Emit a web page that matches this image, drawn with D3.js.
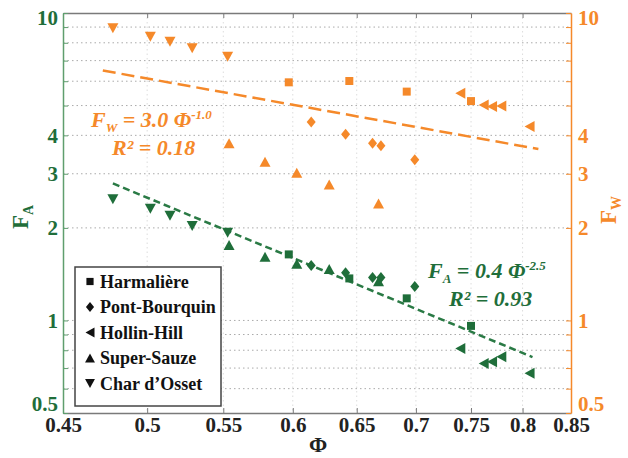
<!DOCTYPE html>
<html>
<head>
<meta charset="utf-8">
<script src="https://cdn.jsdelivr.net/npm/d3@7"></script>
<style>
  body { margin: 0; background: #fff; }
</style>
</head>
<body>
<svg width="628" height="458"></svg>
<script>
// sites, one marker shape each
var sites = ["Harmalière", "Pont-Bourquin", "Hollin-Hill", "Super-Sauze", "Char d’Osset"];
var shapes = ["square", "diamond", "left", "up", "down"];

// porosity Φ per site
var phi = [
    [0.597, 0.644, 0.692, 0.750],
    [0.614, 0.641, 0.663, 0.670, 0.699],
    [0.740, 0.762, 0.770, 0.779, 0.807],
    [0.554, 0.5795, 0.603, 0.628, 0.668],
    [0.479, 0.502, 0.5145, 0.529, 0.553]
];
// F_A (left axis, green)
var fA = [
    [1.64, 1.37, 1.18, 0.96],
    [1.51, 1.43, 1.38, 1.38, 1.29],
    [0.81, 0.725, 0.734, 0.762, 0.673],
    [1.76, 1.61, 1.53, 1.47, 1.34],
    [2.48, 2.31, 2.19, 2.03, 1.93]
];
// F_W (right axis, orange)
var fW = [
    [5.95, 6.01, 5.55, 5.17],
    [4.42, 4.03, 3.77, 3.70, 3.33],
    [5.48, 5.02, 4.96, 4.98, 4.27],
    [3.77, 3.28, 3.02, 2.77, 2.40],
    [8.92, 8.37, 8.07, 7.68, 7.21]
];
// fitted power laws, end points as drawn
var fitA = [[0.479, 2.79], [0.81, 0.76]];
var fitW = [[0.473, 6.5], [0.816, 3.61]];

var xTicks = [0.45, 0.5, 0.55, 0.6, 0.65, 0.7, 0.75, 0.8, 0.85];
var yTicks = [0.5, 0.6, 0.7, 0.8, 0.9, 1, 2, 3, 4, 5, 6, 7, 8, 9, 10];
var yLabels = [0.5, 1, 2, 3, 4, 10];

var green = "#1f6e3a", greenAxis = "#5f9e6e", orange = "#f5892a", grey = "#7a7a7a";
var FONT = "Liberation Serif";

var svg = d3.select("svg")
    .style("font-family", FONT).style("font-weight", "bold");
var mLeft = 63, mRight = 571, mTop = 13, mBottom = 413;

var x = d3.scaleLog().domain([0.45, 0.85]).range([mLeft, mRight]);
var y = d3.scaleLog().domain([0.5, 10]).range([mBottom, mTop]);

// grid
svg.append("g").selectAll("line")
    .data(yTicks.filter(function(d) { return d > 0.5 && d < 10; }))
    .enter().append("line")
    .attr("x1", mLeft).attr("x2", mRight)
    .attr("y1", function(d) { return y(d); }).attr("y2", function(d) { return y(d); })
    .attr("stroke", "#aaa").attr("stroke-width", 1).attr("stroke-dasharray", "1.5,3");
svg.append("g").selectAll("line")
    .data(xTicks.slice(1, -1))
    .enter().append("line")
    .attr("y1", mTop).attr("y2", mBottom)
    .attr("x1", function(d) { return x(d); }).attr("x2", function(d) { return x(d); })
    .attr("stroke", "#ddd").attr("stroke-width", 1).attr("stroke-dasharray", "1.5,3");

function styleAxis(g, col, txtCol) {
    g.attr("font-family", null);
    g.select(".domain").attr("stroke", col).attr("stroke-width", 1.5);
    g.selectAll(".tick line").attr("stroke", col).attr("stroke-width", 1);
    g.selectAll("text").attr("fill", txtCol).attr("font-size", 21)
        .style("font-family", FONT).style("font-weight", "bold");
}

var fmt = function(d) { return yLabels.indexOf(d) >= 0 ? d : ""; };

// bottom
var gx = svg.append("g").attr("transform", "translate(0," + mBottom + ")")
    .call(d3.axisBottom(x).tickValues(xTicks).tickFormat(function(d) { return d; })
        .tickSizeInner(-5).tickSizeOuter(0).tickPadding(4));
styleAxis(gx, grey, "#222");
// top
var gt = svg.append("g").attr("transform", "translate(0," + mTop + ")")
    .call(d3.axisTop(x).tickValues(xTicks.slice(1, -1)).tickFormat("")
        .tickSizeInner(-5).tickSizeOuter(0));
styleAxis(gt, grey, "#222");

// left
var gl = svg.append("g").attr("transform", "translate(" + mLeft + ",0)")
    .call(d3.axisLeft(y).tickValues(yTicks).tickFormat(fmt)
        .tickSizeInner(-5).tickSizeOuter(0).tickPadding(5));
styleAxis(gl, greenAxis, green);
// right
var gr = svg.append("g").attr("transform", "translate(" + mRight + ",0)")
    .call(d3.axisRight(y).tickValues(yTicks).tickFormat(fmt)
        .tickSizeInner(-5).tickSizeOuter(0).tickPadding(7));
styleAxis(gr, orange, orange);

// nudge end labels inside the frame
[gl, gr].forEach(function(g) {
    g.selectAll(".tick text").attr("transform", function(d) {
        return d === 10 ? "translate(0,5)" : d === 0.5 ? "translate(0,-9)" : null;
    });
});

// axis titles
svg.append("text").attr("transform", "translate(28,217) rotate(-90)")
    .attr("text-anchor", "middle").attr("fill", green).attr("font-size", 23)
    .call(function(t) {
        t.append("tspan").text("F");
        t.append("tspan").attr("font-size", 14).attr("dy", 5).text("A");
    });
svg.append("text").attr("transform", "translate(616,210) rotate(-90)")
    .attr("text-anchor", "middle").attr("fill", orange).attr("font-size", 23)
    .call(function(t) {
        t.append("tspan").text("F");
        t.append("tspan").attr("font-size", 14).attr("dy", 5).text("W");
    });
svg.append("text").attr("x", 318).attr("y", 452)
    .attr("text-anchor", "middle").attr("fill", "#222").attr("font-size", 22).text("Φ");

// fit lines
var line = d3.line()
    .x(function(d) { return x(d[0]); })
    .y(function(d) { return y(d[1]); });
svg.append("path").datum(fitW).attr("d", line).attr("fill", "none")
    .attr("stroke", orange).attr("stroke-width", 2.5).attr("stroke-dasharray", "13,6");
svg.append("path").datum(fitA).attr("d", line).attr("fill", "none")
    .attr("stroke", "#2a7a45").attr("stroke-width", 2.5).attr("stroke-dasharray", "7,4");

function shapePath(type, k) {
    k = k || 1;
    var p;
    if (type === "square") p = [[-4, -4], [4, -4], [4, 4], [-4, 4]];
    else if (type === "diamond") p = [[0, -5.5], [4.5, 0], [0, 5.5], [-4.5, 0]];
    else if (type === "up") p = [[0, -5], [5.5, 5], [-5.5, 5]];
    else if (type === "down") p = [[0, 5], [5.5, -5], [-5.5, -5]];
    else p = [[-5, 0], [5, -5.5], [5, 5.5]];
    return "M" + p.map(function(q) { return [q[0] * k, q[1] * k].join(","); }).join("L") + "Z";
}

// markers
sites.forEach(function(s, i) {
    var pts = phi[i].map(function(p, j) { return {p: p, a: fA[i][j], w: fW[i][j]}; });
    svg.append("g").selectAll("path").data(pts).enter().append("path")
        .attr("d", shapePath(shapes[i]))
        .attr("transform", function(d) { return "translate(" + x(d.p) + "," + y(d.w) + ")"; })
        .attr("fill", orange);
    svg.append("g").selectAll("path").data(pts).enter().append("path")
        .attr("d", shapePath(shapes[i]))
        .attr("transform", function(d) { return "translate(" + x(d.p) + "," + y(d.a) + ")"; })
        .attr("fill", green);
});

// equations
function equation(xp, yp, col, sub, rhs, sup, r2) {
    var t = svg.append("text").attr("x", xp).attr("y", yp).attr("fill", col)
        .attr("font-size", 22).style("font-style", "italic");
    t.append("tspan").text("F");
    t.append("tspan").attr("font-size", 13).attr("dy", 5).text(sub);
    t.append("tspan").attr("dy", -5).text(" = " + rhs + " Φ");
    t.append("tspan").attr("font-size", 13).attr("dy", -8).text(sup);
    svg.append("text").attr("x", xp + 21).attr("y", yp + 28).attr("fill", col)
        .attr("font-size", 22).style("font-style", "italic").text("R² = " + r2);
}
equation(91, 127, orange, "W", "3.0", "-1.0", "0.18");
equation(428, 278, green, "A", "0.4", "-2.5", "0.93");

// legend
var lg = svg.append("g");
lg.append("rect").attr("x", 75).attr("y", 267).attr("width", 146).attr("height", 139)
    .attr("fill", "#fff").attr("stroke", "#444").attr("stroke-width", 1.5);
sites.forEach(function(s, i) {
    var cy = 281.5 + i * 25.5;
    lg.append("path").attr("d", shapePath(shapes[i], 0.9))
        .attr("transform", "translate(90," + cy + ")").attr("fill", "#111");
    lg.append("text").attr("x", 100).attr("y", cy + 6).attr("font-size", 18)
        .attr("fill", "#111").text(s);
});
</script>
</body>
</html>
